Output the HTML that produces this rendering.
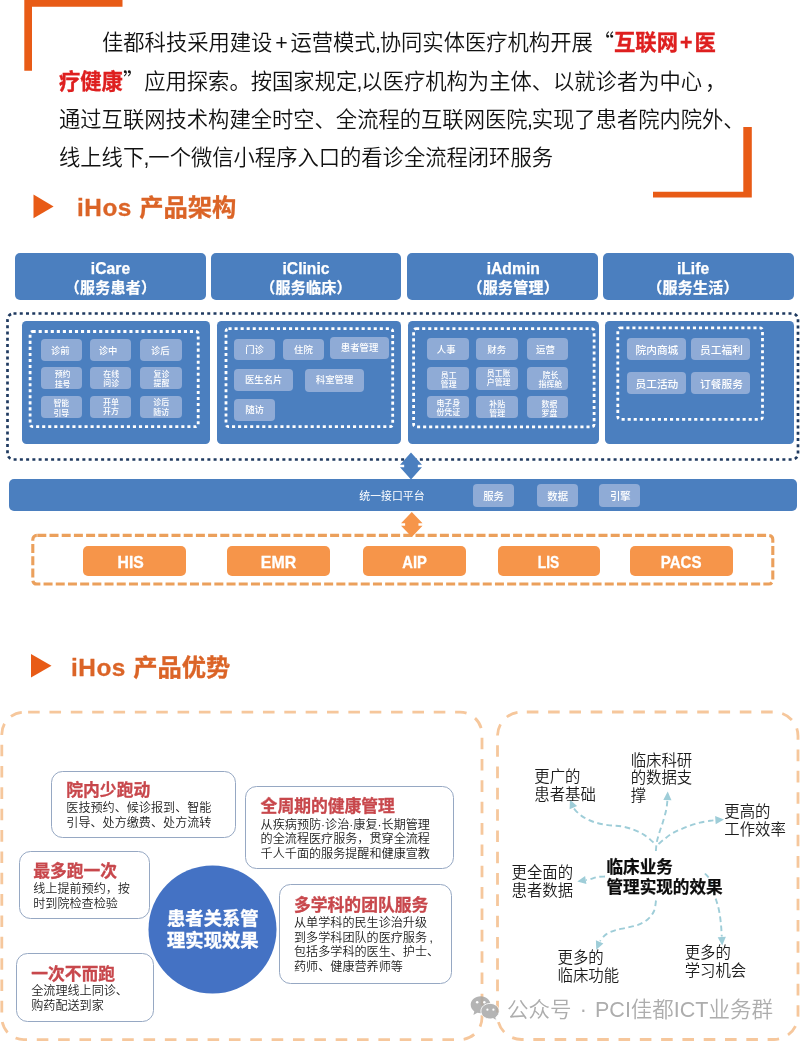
<!DOCTYPE html>
<html lang="zh-CN">
<head>
<meta charset="utf-8">
<title>iHos 产品架构与产品优势</title>
<style>
*{margin:0;padding:0;box-sizing:border-box}
html,body{width:800px;height:1041px;overflow:hidden;background:#fff}
body{font-family:"Liberation Sans","Noto Sans CJK SC",sans-serif;color:#1a1a1a;position:relative}
#pg{position:absolute;left:0;top:0;width:800px;height:1041px;overflow:hidden;background:#fff;will-change:transform}
.a{position:absolute}
.t{position:absolute;white-space:nowrap;line-height:1}

.p{position:absolute;white-space:nowrap;font-size:21.3px;font-weight:350;line-height:38px;height:38px;color:#111;left:59px}
.p b{color:#DE1F1F;font-weight:700;-webkit-text-stroke:0.35px #DE1F1F}
.pl{display:inline-block;padding:0 2.8px}
.cm{display:inline-block;margin:0 -1.2px 0 -0.6px}
.q{font-family:"Noto Sans CJK SC","Liberation Sans",sans-serif}
.lt{letter-spacing:0.55px}
.md{font-family:"Liberation Sans",sans-serif;font-style:normal}
.h{position:absolute;background:#4B7FBF;border-radius:5px;color:#fff;font-weight:700;-webkit-text-stroke:0.25px #fff;text-align:center;font-size:15px;line-height:20px;top:253px;height:47px;padding-top:4px}
.h1{position:relative;top:1.9px;font-size:15.7px}
.h2{position:relative;top:0.8px;letter-spacing:0.25px}
.pn{position:absolute;background:#4B7FBF;border-radius:4.5px;top:321.2px;height:123.3px}
.b{position:absolute;background:#8FABD6;border-radius:4px;color:#fff;text-align:center;display:flex;align-items:center;justify-content:center;font-size:9.4px;font-weight:500;line-height:1}
.b2{font-size:7.9px;line-height:9.4px}
.ob{position:absolute;background:#F6954A;border-radius:5px;color:#fff;font-weight:700;-webkit-text-stroke:0.3px #fff;text-align:center;font-size:16.4px;top:545.7px;height:30.8px;line-height:32.7px}
.ttl{position:absolute;white-space:nowrap;font-weight:700;font-size:24.3px;line-height:30px;color:#DB6427;-webkit-text-stroke:0.3px #DB6427}
.bx{position:absolute;background:#fff;border:1.8px solid #96A8C3;border-radius:11.5px}
.rt{position:absolute;white-space:nowrap;font-weight:700;font-size:16.8px;line-height:20px;color:#C8474C;-webkit-text-stroke:0.3px #C8474C}
.d{position:absolute;white-space:nowrap;font-size:12.1px;font-weight:350;line-height:14.5px;color:#1c1c1c}
.l{position:absolute;white-space:nowrap;font-size:15.4px;font-weight:350;line-height:17.5px;color:#1c1c1c}
.c{position:absolute;white-space:nowrap;font-weight:700;font-size:16.6px;line-height:20.7px;color:#0c0c0c;-webkit-text-stroke:0.25px #0c0c0c}
</style>
</head>
<body>
<div id="pg">
<svg class="a" style="left:0;top:0" width="800" height="1041" viewBox="0 0 800 1041"><path d="M24.3 0H122.5V6.8H32V70.7H24.3Z" fill="#E85B16"/><path d="M751.8 127V197.5H653V191.8H743.3V127Z" fill="#E85B16"/><path d="M33.5 194.6L53.6 206.5L33.5 218.3Z" fill="#E85B16"/><path d="M31 654L51.5 665.8L31 677.5Z" fill="#E85B16"/><rect x="7.5" y="313.5" width="790.5" height="146" rx="6" fill="none" stroke="#1F3A60" stroke-width="2.7" stroke-dasharray="3 3.25"/></svg>
<div class="p" style="top:21.8px;left:102px">佳都科技采用建设<span class="pl">+</span>运营模式<span class="cm">,</span>协同实体医疗机构开展<span class="q">“</span><b>互联网<span class="pl" style="padding:0 2px">+</span>医</b></div>
<div class="p" style="top:60.5px"><b>疗健康</b><span class="q">”</span>应用探索。按国家规定<span class="cm">,</span>以医疗机构为主体、以就诊者为中心<span class="q" style="margin-left:3px">，</span></div>
<div class="p" style="top:101px">通过互联网技术构建全时空、全流程的互联网医院<span class="cm">,</span>实现了患者院内院外、</div>
<div class="p" style="top:138.6px">线上线下<span class="cm">,</span>一个微信小程序入口的看诊全流程闭环服务</div>
<div class="ttl" style="left:77px;top:192.6px"><span class="lt">iHos </span>产品架构</div>
<div class="ttl" style="left:71px;top:652.6px"><span class="lt">iHos </span>产品优势</div>
<div class="h" style="left:15.3px;width:190.4px"><span class="h1">iCare</span><br><span class="h2">（服务患者）</span></div>
<div class="h" style="left:211px;width:190.0px"><span class="h1">iClinic</span><br><span class="h2">（服务临床）</span></div>
<div class="h" style="left:407px;width:190.5px;padding-left:22px"><span class="h1">iAdmin</span><br><span class="h2">（服务管理）</span></div>
<div class="h" style="left:603px;width:191.0px;padding-right:11.0px"><span class="h1">iLife</span><br><span class="h2">（服务生活）</span></div>
<div class="pn" style="left:21.5px;width:188.9px"></div>
<div class="pn" style="left:217.3px;width:183.5px"></div>
<div class="pn" style="left:408.3px;width:190.3px"></div>
<div class="pn" style="left:605.3px;width:188.7px"></div>
<div class="b cj" style="left:40.7px;top:339px;width:41.3px;height:21.5px"><span style="position:relative;left:-1px;top:0.6px;">诊前</span></div>
<div class="b cj" style="left:89.7px;top:339px;width:41.8px;height:21.5px"><span style="position:relative;left:-2.5px;top:1px;">诊中</span></div>
<div class="b cj" style="left:140.3px;top:339px;width:41.7px;height:21.5px"><span style="position:relative;left:-0.8px;top:0.5px;">诊后</span></div>
<div class="b cj b2" style="left:40.7px;top:366.6px;width:41.3px;height:22.0px"><span style="position:relative;left:1.2px;top:2px;">预约<br>挂号</span></div>
<div class="b cj b2" style="left:89.7px;top:366.6px;width:41.8px;height:22.0px"><span style="position:relative;left:0.6px;top:1.5px;">在线<br>问诊</span></div>
<div class="b cj b2" style="left:140.3px;top:366.6px;width:41.7px;height:22.0px"><span style="position:relative;left:0.3px;top:1.5px;">复诊<br>提醒</span></div>
<div class="b cj b2" style="left:40.7px;top:395.7px;width:41.3px;height:22.0px"><span style="position:relative;left:0px;top:2px;">智能<br>引导</span></div>
<div class="b cj b2" style="left:89.7px;top:395.7px;width:41.8px;height:22.0px"><span style="position:relative;left:0.4px;top:0.6px;">开单<br>开方</span></div>
<div class="b cj b2" style="left:140.3px;top:395.7px;width:41.7px;height:22.0px"><span style="position:relative;left:0px;top:1.2px;">诊后<br>随访</span></div>
<div class="b cj" style="left:234.4px;top:338.5px;width:40.4px;height:21.5px"><span>门诊</span></div>
<div class="b cj" style="left:283px;top:338.5px;width:40.8px;height:21.5px"><span>住院</span></div>
<div class="b cj" style="left:330px;top:337px;width:59.2px;height:22.4px"><span>患者管理</span></div>
<div class="b cj" style="left:234.4px;top:368.8px;width:58.6px;height:22.0px"><span>医生名片</span></div>
<div class="b cj" style="left:305px;top:368.8px;width:59.2px;height:22.8px"><span>科室管理</span></div>
<div class="b cj" style="left:234.4px;top:399px;width:40.4px;height:22.0px"><span>随访</span></div>
<div class="b cj" style="left:426.7px;top:338px;width:42.1px;height:22.0px"><span style="position:relative;left:-1.5px;top:0.3px;">人事</span></div>
<div class="b cj" style="left:475.6px;top:338px;width:42.1px;height:22.0px"><span style="position:relative;left:0px;top:0.3px;">财务</span></div>
<div class="b cj" style="left:526.5px;top:338px;width:41.8px;height:22.0px"><span style="position:relative;left:-2px;top:0.3px;">运营</span></div>
<div class="b cj b2" style="left:426.7px;top:367.4px;width:42.1px;height:22.6px"><span style="position:relative;left:1px;top:1.6px;">员工<br>管理</span></div>
<div class="b cj b2" style="left:475.6px;top:367.4px;width:42.1px;height:22.6px"><span style="position:relative;left:2px;top:-0.3px;">员工账<br>户管理</span></div>
<div class="b cj b2" style="left:526.5px;top:367.4px;width:41.8px;height:22.6px"><span style="position:relative;left:3px;top:1.6px;">院长<br>指挥舱</span></div>
<div class="b cj b2" style="left:426.7px;top:395.7px;width:42.1px;height:22.6px"><span style="position:relative;left:0.5px;top:1.5px;">电子身<br>份凭证</span></div>
<div class="b cj b2" style="left:475.6px;top:395.7px;width:42.1px;height:22.6px"><span style="position:relative;left:0.5px;top:2px;">补贴<br>管理</span></div>
<div class="b cj b2" style="left:526.5px;top:395.7px;width:41.8px;height:22.6px"><span style="position:relative;left:2px;top:2px;">数据<br>罗盘</span></div>
<div class="b cj" style="left:626.8px;top:338px;width:59.1px;height:22.0px"><span style="position:relative;left:0.6px;top:1px;font-size:10.7px;">院内商城</span></div>
<div class="b cj" style="left:691.4px;top:338px;width:58.6px;height:22.0px"><span style="position:relative;left:0.8px;top:1px;font-size:10.7px;">员工福利</span></div>
<div class="b cj" style="left:626.8px;top:371.5px;width:59.1px;height:22.0px"><span style="position:relative;left:0.6px;top:1.5px;font-size:10.7px;">员工活动</span></div>
<div class="b cj" style="left:691.4px;top:371.5px;width:58.6px;height:22.0px"><span style="position:relative;left:0.8px;top:1.5px;font-size:10.7px;">订餐服务</span></div>
<div class="a" style="left:9px;top:479.4px;width:787.5px;height:31.2px;background:#4B7FBF;border-radius:5px"></div>
<div class="t cj" style="left:359.3px;top:490.6px;font-size:10.9px;color:#fff">统一接口平台</div>
<div class="b cj" style="left:472.8px;top:484px;width:40.9px;height:22.5px"><span style="position:relative;left:0.4px;top:2px;font-size:10.4px;">服务</span></div>
<div class="b cj" style="left:537px;top:484px;width:40.5px;height:22.5px"><span style="position:relative;left:0.4px;top:2px;font-size:10.4px;">数据</span></div>
<div class="b cj" style="left:599px;top:484px;width:41.0px;height:22.5px"><span style="position:relative;left:0.8px;top:2px;font-size:10.4px;">引擎</span></div>
<div class="ob" style="left:83px;width:103.0px"><span style="display:inline-block;transform:translateX(-4px) scaleX(0.96)">HIS</span></div>
<div class="ob" style="left:227px;width:103.0px"><span style="display:inline-block;transform:translateX(0.3px) scaleX(0.97)">EMR</span></div>
<div class="ob" style="left:363px;width:103.0px"><span style="display:inline-block;transform:translateX(0px) scaleX(0.9)">AIP</span></div>
<div class="ob" style="left:497.5px;width:102.5px"><span style="display:inline-block;transform:translateX(-0.3px) scaleX(0.84)">LIS</span></div>
<div class="ob" style="left:630px;width:102.5px"><span style="display:inline-block;transform:translateX(0px) scaleX(0.92)">PACS</span></div>
<svg class="a" style="left:0;top:0" width="800" height="1041" viewBox="0 0 800 1041"><rect x="30.099999999999998" y="331.5" width="168.1" height="95.2" rx="2.5" fill="none" stroke="#fff" stroke-width="2.8" stroke-dasharray="3.1 2.95"/><rect x="226.0" y="328.7" width="166.7" height="98.0" rx="2.5" fill="none" stroke="#fff" stroke-width="2.8" stroke-dasharray="3.1 2.95"/><rect x="413.59999999999997" y="328.7" width="180.5" height="98.1" rx="2.5" fill="none" stroke="#fff" stroke-width="2.8" stroke-dasharray="3.1 2.95"/><rect x="617.8000000000001" y="327.9" width="144.7" height="91.4" rx="2.5" fill="none" stroke="#fff" stroke-width="2.8" stroke-dasharray="3.1 2.95"/><rect x="32.8" y="535.4" width="740" height="48.6" rx="4" fill="none" stroke="#EBA05C" stroke-width="3.1" stroke-dasharray="9 3.2" stroke-dashoffset="-0.5"/><path d="M411 452.5L422.0 464.8H417.82V467.2H422.0L411 479.5L400.0 467.2H404.18V464.8H400.0Z" fill="#4B7FBF"/><path d="M411.8 512L422.55 523.3H418.46500000000003V525.7H422.55L411.8 537L401.05 525.7H405.135V523.3H401.05Z" fill="#F6954A"/><rect x="1.8" y="712.2" width="480.2" height="327.4" rx="22" fill="none" stroke="#F6C79C" stroke-width="2.8" stroke-dasharray="11.6 9.75" stroke-dashoffset="-4.3"/><rect x="497.5" y="712" width="300.5" height="327.5" rx="24" fill="none" stroke="#F6C79C" stroke-width="2.8" stroke-dasharray="11.6 9.7" stroke-dashoffset="-5.3"/><circle cx="212.5" cy="929.5" r="64" fill="#4472C4"/><path d="M653.5 842.5C652.0 841.3 647.8 837.2 644.5 835.1C641.2 833.0 637.8 831.4 634.0 829.9C630.2 828.4 626.2 827.2 621.8 826.4C617.4 825.6 612.5 825.8 607.8 825.1C603.1 824.4 598.2 823.5 593.8 822.0C589.4 820.5 584.9 818.2 581.5 815.9C578.1 813.6 574.9 809.6 573.6 808.3" fill="none" stroke="#9ECDD8" stroke-width="1.9" stroke-dasharray="5.6 3.6"/><path d="M570.0 799.8L577.1 806.1L569.6 809.3Z" fill="#9ECDD8"/><path d="M655.9 851.0C656.0 849.5 656.2 845.2 656.8 842.1C657.4 839.0 658.4 835.9 659.4 832.5C660.4 829.1 661.8 825.8 662.9 822.0C664.0 818.2 665.5 813.4 666.2 809.8C667.0 806.2 667.2 802.0 667.4 800.5" fill="none" stroke="#9ECDD8" stroke-width="1.9" stroke-dasharray="5.6 3.6"/><path d="M667.7 791.6L671.5 800.3L663.3 800.1Z" fill="#9ECDD8"/><path d="M658.5 844.0C659.6 843.1 662.8 840.3 665.0 838.6C667.2 836.9 669.5 835.1 672.0 833.6C674.5 832.1 677.0 830.9 680.0 829.6C683.0 828.3 686.7 826.8 690.0 825.6C693.3 824.4 696.7 823.4 700.0 822.6C703.3 821.8 707.4 821.2 710.0 820.8C712.6 820.4 714.6 820.3 715.5 820.2" fill="none" stroke="#9ECDD8" stroke-width="1.9" stroke-dasharray="5.6 3.6"/><path d="M724.0 819.6L715.7 824.3L715.1 816.1Z" fill="#9ECDD8"/><path d="M605.0 876.5C603.8 876.6 599.9 876.6 597.6 877.0C595.3 877.4 593.2 878.3 591.3 878.8C589.4 879.3 586.9 879.8 586.0 880.0" fill="none" stroke="#9ECDD8" stroke-width="1.9" stroke-dasharray="5.6 3.6"/><path d="M577.3 881.4L585.1 876.0L586.4 884.1Z" fill="#9ECDD8"/><path d="M656.0 900.5C655.7 902.2 655.4 907.8 654.0 911.0C652.6 914.2 650.3 917.2 647.6 919.5C644.9 921.8 641.4 923.4 638.0 924.8C634.6 926.1 631.1 926.7 627.4 927.6C623.7 928.5 619.2 929.0 615.7 930.1C612.2 931.2 608.7 932.6 606.1 934.4C603.5 936.2 601.0 939.9 600.0 941.0" fill="none" stroke="#9ECDD8" stroke-width="1.9" stroke-dasharray="5.6 3.6"/><path d="M596.3 949.8L595.9 940.3L603.4 943.5Z" fill="#9ECDD8"/><path d="M705.0 873.5C705.8 874.6 708.4 876.4 710.0 880.0C711.6 883.6 713.0 890.2 714.5 895.0C716.0 899.8 717.6 904.2 718.7 909.0C719.8 913.8 720.4 919.1 720.9 923.7C721.4 928.3 721.6 934.4 721.8 936.5" fill="none" stroke="#9ECDD8" stroke-width="1.9" stroke-dasharray="5.6 3.6"/><path d="M722.2 945.6L717.7 937.2L725.9 936.8Z" fill="#9ECDD8"/></svg>
<div class="t cj" style="left:166.8px;top:908px;font-size:18.3px;line-height:21.5px;font-weight:700;-webkit-text-stroke:0.35px #fff;color:#fff;text-align:center;white-space:normal;width:92px">患者关系管理实现效果</div>
<div class="bx" style="left:51.3px;top:770.5px;width:184.3px;height:67.5px"></div>
<div class="rt cj" style="left:66.3px;top:781.4px">院内少跑动</div>
<div class="d cj" style="left:66.3px;top:801.2px">医技预约、候诊报到、智能<br>引导、处方缴费、处方流转</div>
<div class="bx" style="left:18.5px;top:850.5px;width:131.5px;height:68.2px"></div>
<div class="rt cj" style="left:33.2px;top:861.9px">最多跑一次</div>
<div class="d cj" style="left:33.2px;top:882.0px">线上提前预约，按<br>时到院检查检验</div>
<div class="bx" style="left:16.2px;top:953px;width:138.2px;height:68.8px"></div>
<div class="rt cj" style="left:31.2px;top:964.7px">一次不而跑</div>
<div class="d cj" style="left:31.2px;top:984.0px">全流理线上同诊、<br>购药配送到家</div>
<div class="bx" style="left:245.3px;top:785.6px;width:208.9px;height:83.5px"></div>
<div class="rt cj" style="left:260.6px;top:797.1px">全周期的健康管理</div>
<div class="d cj" style="left:260.6px;top:817.6px">从疾病预防<i class="md">·</i>诊治<i class="md">·</i>康复<i class="md">·</i>长期管理<br>的全流程医疗服务，贯穿全流程<br>千人千面的服务提醒和健康宣教</div>
<div class="bx" style="left:278.7px;top:883.6px;width:172.9px;height:100.1px"></div>
<div class="rt cj" style="left:294px;top:896.2px">多学科的团队服务</div>
<div class="d cj" style="left:294px;top:916.0px">从单学科的民生诊治升级<br>到多学科团队的医疗服务<i class="md" style="margin-left:2.5px">,</i><br>包括多学科的医生、护士、<br>药师、健康营养师等</div>
<div class="l cj" style="left:534.3px;top:768.0px">更广的<br>患者基础</div>
<div class="l cj" style="left:630.7px;top:751.5px">临床科研<br>的数据支<br>撑</div>
<div class="l cj" style="left:724.3px;top:803.0px">更高的<br>工作效率</div>
<div class="l cj" style="left:511.5px;top:864.0px">更全面的<br>患者数据</div>
<div class="c cj" style="left:606.5px;top:857.6px">临床业务<br>管理实现的效果</div>
<div class="l cj" style="left:557.5px;top:949.0px">更多的<br>临床功能</div>
<div class="l cj" style="left:684.7px;top:944.0px">更多的<br>学习机会</div>
<svg class="a" style="left:470px;top:995px;opacity:.84" width="30" height="26" viewBox="0 0 30 26"><path d="M10.6 1.2C5.1 1.2 0.7 5 0.7 9.8C0.7 12.5 2.1 14.9 4.3 16.4L3.4 19.9L7.4 17.8C8.4 18.1 9.5 18.3 10.6 18.3C16.1 18.3 20.5 14.5 20.5 9.8C20.5 5 16.1 1.2 10.6 1.2Z" fill="#a6a6a6"/><path d="M20.1 8.4C15 8.4 10.9 11.9 10.9 16.2C10.9 20.5 15 24 20.1 24C21.1 24 22.1 23.8 23 23.6L26.6 25.5L25.8 22.3C27.9 20.9 29.2 18.7 29.2 16.2C29.2 11.9 25.1 8.4 20.1 8.4Z" fill="#a6a6a6" stroke="#fff" stroke-width="0.9"/><circle cx="7.2" cy="7.3" r="1.25" fill="#fff"/><circle cx="14.3" cy="7.3" r="1.25" fill="#fff"/><circle cx="17.4" cy="14.7" r="1.1" fill="#fff"/><circle cx="23.4" cy="14.7" r="1.1" fill="#fff"/></svg>
<div class="t cj" style="left:507px;top:997.5px;font-size:21.5px;font-weight:350;line-height:24px;color:#adadad;letter-spacing:0;word-spacing:2.2px">公众号 <span class="md">·</span> PCI佳都ICT业务群</div>
</div>
</body>
</html>
